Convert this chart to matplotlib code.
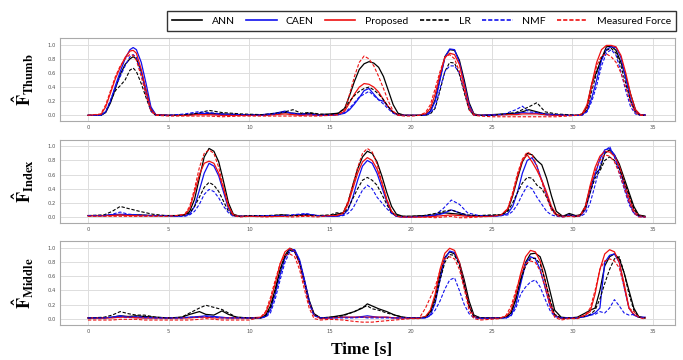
import matplotlib
matplotlib.use("Agg")
import matplotlib.pyplot as plt
from matplotlib.lines import Line2D

# ---------------- data ----------------
methods = ["ANN", "CAEN", "Proposed", "LR", "NMF", "Measured Force"]

# Thumb panel
t_thumb = [0, 0.8, 1.1, 1.4, 1.7, 2.0, 2.3, 2.6, 2.8, 3.0, 3.3, 3.6, 3.9, 4.2, 5.0,
           6.0, 6.8, 7.5, 8.3, 9.5, 10.8, 11.6, 12.2, 12.7, 13.2, 13.7, 14.3,
           15.0, 15.5, 15.9, 16.2, 16.5, 16.8, 17.1, 17.4, 17.7, 18.0, 18.3, 18.6, 18.9, 19.2, 19.6,
           20.1, 20.5, 20.9, 21.2, 21.5, 21.8, 22.1, 22.4, 22.7, 23.0, 23.3, 23.6, 23.9, 24.3,
           25.0, 25.8, 26.5, 26.9, 27.3, 27.8, 28.3, 29.0, 29.7,
           30.3, 30.6, 30.9, 31.2, 31.5, 31.8, 32.1, 32.4, 32.7, 33.0, 33.3, 33.6, 33.9, 34.2, 34.5]
thumb_ann = [0, 0.0, 0.04, 0.18, 0.38, 0.58, 0.72, 0.80, 0.83, 0.80, 0.62, 0.35, 0.10, 0.01, 0.0,
             0.0, 0.02, 0.03, 0.02, 0.01, 0.0, 0.02, 0.04, 0.03, 0.02, 0.03, 0.01,
             0.02, 0.03, 0.10, 0.28, 0.48, 0.65, 0.73, 0.76, 0.74, 0.68, 0.55, 0.35, 0.15, 0.03, 0.0,
             0.0, 0, 0.01, 0.06, 0.22, 0.52, 0.83, 0.93, 0.92, 0.78, 0.50, 0.18, 0.02, 0,
             0.01, 0.02, 0.03, 0.05, 0.08, 0.05, 0.02, 0.01, 0.0,
             0.0, 0.02, 0.12, 0.45, 0.62, 0.80, 0.97, 0.98, 0.92, 0.75, 0.55, 0.3, 0.08, 0.0, 0.0]
thumb_caen = [0, 0.0, 0.05, 0.2, 0.42, 0.62, 0.80, 0.93, 0.96, 0.93, 0.75, 0.45, 0.12, 0.01, 0.0,
              0.0, 0.03, 0.02, 0.01, 0.0, 0.01, 0.03, 0.06, 0.02, 0.01, 0.01, 0.0,
              0.01, 0.01, 0.03, 0.08, 0.16, 0.25, 0.35, 0.38, 0.30, 0.22, 0.20, 0.12, 0.04, 0.01, 0.0,
              0.0, 0, 0.01, 0.05, 0.2, 0.5, 0.82, 0.94, 0.93, 0.75, 0.45, 0.15, 0.01, 0,
              0.01, 0.01, 0.02, 0.04, 0.03, 0.03, 0.01, 0.0, 0.0,
              0.0, 0.01, 0.06, 0.25, 0.50, 0.78, 0.93, 0.97, 0.96, 0.82, 0.52, 0.22, 0.05, 0.01, 0.01]
thumb_prop = [0, 0.01, 0.12, 0.32, 0.52, 0.68, 0.82, 0.91, 0.92, 0.88, 0.65, 0.35, 0.08, 0.01, 0.0,
              0.0, 0.01, 0.01, 0.0, 0.0, 0.0, 0.01, 0.02, 0.01, 0.0, 0.01, 0.0,
              0.0, 0.01, 0.06, 0.18, 0.30, 0.40, 0.45, 0.44, 0.40, 0.33, 0.22, 0.12, 0.04, 0.01, 0.0,
              0.0, 0, 0.02, 0.1, 0.3, 0.58, 0.82, 0.88, 0.86, 0.72, 0.42, 0.12, 0.01, 0,
              0.0, 0.01, 0.01, 0.02, 0.02, 0.02, 0.01, 0.0, 0.0,
              0.0, 0.02, 0.15, 0.45, 0.75, 0.93, 0.99, 0.99, 0.97, 0.85, 0.6, 0.3, 0.08, 0.01, 0.0]
thumb_lr = [0, 0.0, 0.05, 0.2, 0.35, 0.42, 0.50, 0.64, 0.67, 0.62, 0.45, 0.25, 0.06, 0.0, 0.0,
            0.01, 0.03, 0.07, 0.04, 0.02, 0.01, 0.03, 0.05, 0.08, 0.03, 0.04, 0.02,
            0.01, 0.03, 0.10, 0.20, 0.28, 0.34, 0.38, 0.40, 0.36, 0.30, 0.22, 0.12, 0.04, 0.01, 0.0,
            0.0, 0, 0.0, 0.02, 0.1, 0.35, 0.62, 0.75, 0.74, 0.58, 0.32, 0.08, 0.0, 0,
            0.0, 0.02, 0.04, 0.08, 0.12, 0.18, 0.05, 0.02, 0.01,
            0.0, 0.01, 0.08, 0.35, 0.60, 0.82, 0.92, 0.95, 0.88, 0.70, 0.45, 0.2, 0.04, 0.0, 0.0]
thumb_nmf = [0, 0.0, 0.05, 0.22, 0.40, 0.55, 0.70, 0.83, 0.86, 0.82, 0.60, 0.30, 0.06, 0.0, 0.0,
             0.02, 0.05, 0.04, 0.02, 0.01, 0.0, 0.02, 0.05, 0.03, 0.02, 0.02, 0.0,
             0.0, 0.01, 0.04, 0.10, 0.18, 0.26, 0.30, 0.34, 0.28, 0.22, 0.16, 0.09, 0.03, 0.0, 0.0,
             0.0, 0, 0.0, 0.03, 0.12, 0.38, 0.62, 0.70, 0.70, 0.60, 0.35, 0.1, 0.0, 0,
             0.0, 0.02, 0.08, 0.13, 0.05, 0.04, 0.02, 0.01, 0.0,
             0.0, 0.0, 0.05, 0.2, 0.42, 0.70, 0.88, 0.93, 0.85, 0.62, 0.35, 0.12, 0.02, 0.0, 0.0]
thumb_meas = [0, 0.02, 0.15, 0.35, 0.55, 0.70, 0.80, 0.86, 0.85, 0.78, 0.55, 0.28, 0.06, 0.0, -0.01,
              -0.01, -0.01, -0.01, -0.02, -0.01, -0.01, -0.01, -0.01, -0.01, -0.01, -0.01, -0.01,
              0.0, 0.01, 0.08, 0.30, 0.55, 0.75, 0.84, 0.80, 0.70, 0.55, 0.38, 0.20, 0.06, 0.0, -0.01,
              -0.01, 0, 0.04, 0.15, 0.38, 0.62, 0.82, 0.86, 0.80, 0.62, 0.35, 0.08, 0.0, -0.01,
              -0.02, -0.02, -0.02, -0.02, -0.02, -0.02, -0.02, -0.02, -0.01,
              0.0, 0.01, 0.1, 0.4, 0.70, 0.84, 0.87, 0.83, 0.75, 0.60, 0.40, 0.18, 0.04, 0.0, 0.0]

# Index panel
t_index = [0, 1.0, 1.5, 2.0, 2.5, 3.2, 4.0, 4.8,
           5.5, 6.0, 6.3, 6.6, 6.9, 7.2, 7.5, 7.8, 8.1, 8.4, 8.7, 9.0, 9.4,
           10.0, 11.0, 12.0, 12.6, 13.5, 14.2,
           15.0, 15.4, 15.8, 16.1, 16.4, 16.7, 17.0, 17.3, 17.6, 17.9, 18.2, 18.5, 18.8, 19.1, 19.5,
           20.0, 20.8, 21.5, 22.0, 22.5, 23.0, 23.5, 24.2, 25.0,
           25.6, 26.0, 26.3, 26.6, 26.9, 27.2, 27.5, 27.8, 28.1, 28.4, 28.7, 29.0, 29.4,
           29.8, 30.2, 30.5, 30.8, 31.1, 31.4, 31.7, 32.0, 32.3, 32.6, 32.9, 33.2, 33.5, 33.8, 34.1, 34.5]
index_ann = [0.02, 0.02, 0.03, 0.03, 0.03, 0.03, 0.02, 0.02,
             0.02, 0.03, 0.08, 0.25, 0.55, 0.85, 0.97, 0.93, 0.78, 0.50, 0.20, 0.04, 0.01,
             0.01, 0.01, 0.03, 0.02, 0.03, 0.02,
             0.02, 0.04, 0.06, 0.20, 0.45, 0.68, 0.85, 0.93, 0.90, 0.78, 0.58, 0.35, 0.15, 0.04, 0.01,
             0.01, 0.02, 0.03, 0.06, 0.05, 0.04, 0.02, 0.02, 0.02,
             0.03, 0.10, 0.30, 0.55, 0.78, 0.90, 0.88, 0.80, 0.74, 0.55, 0.30, 0.08, 0.01,
             0.05, 0.02, 0.03, 0.15, 0.42, 0.60, 0.68, 0.90, 0.95, 0.88, 0.75, 0.55, 0.35, 0.15, 0.03, 0.01]
index_caen = [0.02, 0.02, 0.03, 0.04, 0.03, 0.02, 0.02, 0.02,
              0.01, 0.02, 0.04, 0.15, 0.38, 0.62, 0.76, 0.72, 0.58, 0.35, 0.12, 0.02, 0.01,
              0.01, 0.01, 0.02, 0.02, 0.04, 0.02,
              0.01, 0.01, 0.03, 0.10, 0.28, 0.52, 0.72, 0.80, 0.76, 0.62, 0.42, 0.22, 0.06, 0.01, 0.0,
              0.0, 0.01, 0.02, 0.05, 0.10, 0.06, 0.02, 0.01, 0.01,
              0.02, 0.05, 0.15, 0.35, 0.62, 0.80, 0.84, 0.72, 0.52, 0.32, 0.12, 0.03, 0.01,
              0.03, 0.01, 0.02, 0.10, 0.35, 0.60, 0.82, 0.95, 0.97, 0.88, 0.70, 0.45, 0.22, 0.06, 0.01, 0.0]
index_prop = [0.02, 0.02, 0.02, 0.03, 0.02, 0.02, 0.02, 0.02,
              0.02, 0.03, 0.12, 0.35, 0.60, 0.76, 0.79, 0.76, 0.62, 0.40, 0.15, 0.03, 0.01,
              0.01, 0.01, 0.01, 0.02, 0.02, 0.02,
              0.02, 0.02, 0.05, 0.18, 0.40, 0.62, 0.78, 0.84, 0.80, 0.68, 0.48, 0.25, 0.08, 0.01, 0.0,
              0.0, 0.0, 0.01, 0.02, 0.03, 0.02, 0.01, 0.01, 0.01,
              0.03, 0.12, 0.32, 0.58, 0.80, 0.88, 0.78, 0.66, 0.52, 0.35, 0.15, 0.04, 0.01,
              0.02, 0.01, 0.03, 0.15, 0.45, 0.70, 0.86, 0.93, 0.92, 0.86, 0.72, 0.50, 0.28, 0.10, 0.02, 0.0]
index_lr = [0.02, 0.03, 0.08, 0.15, 0.12, 0.08, 0.04, 0.02,
            0.02, 0.03, 0.06, 0.15, 0.28, 0.42, 0.49, 0.45, 0.36, 0.22, 0.08, 0.02, 0.01,
            0.02, 0.02, 0.03, 0.02, 0.03, 0.02,
            0.03, 0.06, 0.05, 0.12, 0.26, 0.40, 0.52, 0.56, 0.52, 0.45, 0.32, 0.18, 0.06, 0.02, 0.01,
            0.01, 0.02, 0.05, 0.08, 0.10, 0.06, 0.03, 0.02, 0.03,
            0.03, 0.08, 0.20, 0.35, 0.48, 0.56, 0.55, 0.45, 0.40, 0.28, 0.12, 0.03, 0.01,
            0.03, 0.01, 0.03, 0.12, 0.35, 0.55, 0.65, 0.80, 0.85, 0.80, 0.68, 0.50, 0.32, 0.12, 0.02, 0.01]
index_nmf = [0.02, 0.02, 0.04, 0.07, 0.04, 0.03, 0.02, 0.02,
             0.01, 0.01, 0.03, 0.08, 0.18, 0.32, 0.39, 0.36, 0.27, 0.15, 0.06, 0.01, 0.01,
             0.01, 0.02, 0.02, 0.03, 0.05, 0.02,
             0.01, 0.01, 0.02, 0.05, 0.12, 0.25, 0.38, 0.45, 0.40, 0.28, 0.20, 0.12, 0.05, 0.01, 0.0,
             0.0, 0.01, 0.03, 0.12, 0.24, 0.18, 0.06, 0.02, 0.01,
             0.02, 0.03, 0.08, 0.18, 0.32, 0.44, 0.40, 0.28, 0.18, 0.08, 0.03, 0.01, 0.0,
             0.02, 0.01, 0.01, 0.05, 0.20, 0.45, 0.72, 0.92, 1.00, 0.85, 0.62, 0.40, 0.18, 0.05, 0.01, 0.0]
index_meas = [0.01, 0.01, 0.01, 0.01, 0.01, 0.01, 0.01, 0.01,
              0.02, 0.04, 0.15, 0.40, 0.70, 0.90, 0.95, 0.90, 0.70, 0.42, 0.15, 0.02, 0.0,
              0.01, 0.0, 0.01, 0.0, 0.01, 0.0,
              0.02, 0.02, 0.06, 0.22, 0.45, 0.70, 0.90, 0.97, 0.92, 0.75, 0.50, 0.25, 0.08, 0.01, 0.0,
              0.0, 0.0, -0.01, 0.0, 0.01, -0.01, -0.01, 0.0, 0.01,
              0.03, 0.12, 0.35, 0.62, 0.82, 0.92, 0.88, 0.72, 0.50, 0.28, 0.10, 0.02, 0.0,
              0.01, 0.0, 0.02, 0.12, 0.40, 0.65, 0.80, 0.88, 0.86, 0.78, 0.62, 0.42, 0.22, 0.06, 0.0, 0.0]

# Middle-finger panel
t_middle = [0, 1.0, 1.5, 2.0, 2.5, 3.0, 3.5, 4.2, 5.0, 5.8, 6.3, 6.9, 7.3, 7.8, 8.3, 8.7, 9.2,
            10.0, 10.7, 11.0, 11.3, 11.6, 11.9, 12.2, 12.5, 12.8, 13.1, 13.4, 13.7, 14.0, 14.4,
            15.0, 15.8, 16.5, 17.0, 17.3, 17.6, 18.0, 18.5, 19.0, 19.5, 20.0,
            20.5, 20.9, 21.2, 21.5, 21.8, 22.1, 22.4, 22.7, 23.0, 23.3, 23.6, 23.9, 24.3,
            25.5, 25.9, 26.2, 26.5, 26.8, 27.1, 27.4, 27.7, 28.0, 28.3, 28.6, 28.9, 29.3,
            29.8, 30.3, 30.8, 31.1, 31.4, 31.7, 32.0, 32.3, 32.6, 32.9, 33.2, 33.5, 33.8, 34.1, 34.5]
middle_ann = [0.01, 0.01, 0.02, 0.04, 0.03, 0.04, 0.03, 0.02, 0.01, 0.02, 0.06, 0.10, 0.06, 0.05, 0.11, 0.06, 0.02,
              0.01, 0.01, 0.05, 0.18, 0.42, 0.70, 0.90, 1.0, 0.97, 0.82, 0.55, 0.26, 0.07, 0.01,
              0.02, 0.05, 0.10, 0.15, 0.21, 0.18, 0.14, 0.10, 0.05, 0.02, 0.01,
              0.01, 0.02, 0.10, 0.30, 0.62, 0.87, 0.95, 0.92, 0.80, 0.55, 0.25, 0.05, 0.01,
              0.01, 0.02, 0.08, 0.28, 0.56, 0.80, 0.92, 0.93, 0.88, 0.68, 0.40, 0.12, 0.02,
              0.01, 0.02, 0.08, 0.12, 0.15, 0.40, 0.75, 0.88, 0.92, 0.85, 0.65, 0.40, 0.15, 0.03, 0.01]
middle_caen = [0.01, 0.01, 0.02, 0.04, 0.02, 0.02, 0.01, 0.01, 0.01, 0.01, 0.02, 0.03, 0.04, 0.03, 0.02, 0.01, 0.01,
               0.01, 0.01, 0.03, 0.12, 0.35, 0.62, 0.86, 0.98, 0.98, 0.84, 0.56, 0.25, 0.05, 0.01,
               0.01, 0.02, 0.02, 0.03, 0.04, 0.03, 0.02, 0.02, 0.01, 0.01, 0.01,
               0.01, 0.01, 0.05, 0.22, 0.55, 0.85, 0.96, 0.94, 0.78, 0.48, 0.18, 0.03, 0.01,
               0.01, 0.01, 0.05, 0.20, 0.50, 0.78, 0.88, 0.85, 0.70, 0.45, 0.20, 0.04, 0.01,
               0.01, 0.01, 0.03, 0.05, 0.08, 0.15, 0.80, 0.90, 0.92, 0.80, 0.45, 0.15, 0.05, 0.02, 0.02]
middle_prop = [0.01, 0.01, 0.01, 0.02, 0.02, 0.01, 0.01, 0.01, 0.01, 0.01, 0.01, 0.02, 0.02, 0.01, 0.01, 0.01, 0.01,
               0.01, 0.02, 0.08, 0.25, 0.50, 0.78, 0.95, 1.0, 0.95, 0.78, 0.50, 0.22, 0.05, 0.0,
               0.01, 0.02, 0.02, 0.02, 0.02, 0.02, 0.02, 0.02, 0.01, 0.01, 0.01,
               0.01, 0.03, 0.12, 0.35, 0.70, 0.93, 1.0, 0.97, 0.80, 0.48, 0.18, 0.03, 0.0,
               0.01, 0.03, 0.12, 0.35, 0.65, 0.88, 0.97, 0.95, 0.82, 0.55, 0.25, 0.05, 0.0,
               0.01, 0.01, 0.05, 0.10, 0.35, 0.70, 0.92, 0.98, 0.95, 0.80, 0.50, 0.15, 0.06, 0.02, 0.01]
middle_lr = [0.01, 0.02, 0.05, 0.10, 0.07, 0.05, 0.05, 0.02, 0.01, 0.02, 0.08, 0.15, 0.19, 0.16, 0.13, 0.08, 0.02,
             0.01, 0.01, 0.04, 0.15, 0.40, 0.68, 0.88, 0.97, 0.95, 0.80, 0.52, 0.24, 0.06, 0.01,
             0.02, 0.04, 0.10, 0.16, 0.18, 0.14, 0.12, 0.08, 0.05, 0.02, 0.01,
             0.01, 0.02, 0.08, 0.25, 0.55, 0.80, 0.91, 0.90, 0.76, 0.48, 0.18, 0.03, 0.01,
             0.01, 0.02, 0.08, 0.28, 0.55, 0.75, 0.85, 0.86, 0.78, 0.55, 0.28, 0.06, 0.01,
             0.01, 0.01, 0.03, 0.06, 0.12, 0.28, 0.50, 0.70, 0.85, 0.88, 0.65, 0.35, 0.12, 0.02, 0.01]
middle_nmf = [0.01, 0.01, 0.02, 0.03, 0.02, 0.03, 0.02, 0.01, 0.01, 0.01, 0.02, 0.02, 0.03, 0.02, 0.01, 0.01, 0.01,
              0.01, 0.01, 0.02, 0.08, 0.28, 0.55, 0.80, 0.95, 0.96, 0.82, 0.52, 0.22, 0.04, 0.01,
              0.01, 0.01, 0.01, 0.02, 0.01, 0.01, 0.01, 0.01, 0.01, 0.01, 0.01,
              0.01, 0.01, 0.04, 0.12, 0.25, 0.42, 0.55, 0.58, 0.40, 0.20, 0.07, 0.01, 0.0,
              0.01, 0.01, 0.04, 0.15, 0.35, 0.45, 0.52, 0.55, 0.45, 0.28, 0.12, 0.03, 0.01,
              0.01, 0.01, 0.03, 0.05, 0.06, 0.10, 0.08, 0.15, 0.27, 0.18, 0.08, 0.05, 0.06, 0.02, 0.01]
middle_meas = [-0.02, -0.02, -0.02, -0.01, -0.01, -0.01, -0.02, -0.02, -0.02, -0.02, -0.02, -0.01, 0.0, -0.01, -0.02, -0.02, -0.02,
               -0.02, 0.02, 0.10, 0.30, 0.55, 0.78, 0.90, 0.92, 0.88, 0.70, 0.42, 0.15, 0.0, -0.02,
               -0.01, -0.02, -0.04, -0.05, -0.05, -0.05, -0.04, -0.03, -0.02, -0.01, 0.0,
               0.0, 0.15, 0.30, 0.45, 0.68, 0.85, 0.88, 0.85, 0.70, 0.42, 0.12, 0.0, -0.02,
               0.0, 0.05, 0.18, 0.40, 0.62, 0.78, 0.82, 0.80, 0.68, 0.45, 0.18, 0.02, -0.02,
               0.0, 0.0, 0.05, 0.15, 0.40, 0.70, 0.82, 0.85, 0.82, 0.72, 0.45, 0.15, 0.10, 0.02, -0.01]

panel_labels = [r"$\mathbf{\hat{F}_{Thumb}}$", r"$\mathbf{\hat{F}_{Index}}$", r"$\mathbf{\hat{F}_{Middle}}$"]
x_ticks = [0, 5, 10, 15, 20, 25, 30, 35]
y_ticks = [0.0, 0.2, 0.4, 0.6, 0.8, 1.0]

panels = [
    (t_thumb, [thumb_ann, thumb_caen, thumb_prop, thumb_lr, thumb_nmf, thumb_meas]),
    (t_index, [index_ann, index_caen, index_prop, index_lr, index_nmf, index_meas]),
    (t_middle, [middle_ann, middle_caen, middle_prop, middle_lr, middle_nmf, middle_meas]),
]

# ---------------- styling ----------------
plt.rcParams["mathtext.fontset"] = "stix"
colors = ["black", "#1010ee", "#ee1010", "black", "#1010ee", "#ee1010"]
styles = ["-", "-", "-", "--", "--", "--"]

W, H = 683, 360
fig = plt.figure(figsize=(W / 100, H / 100), dpi=100)

# axes rectangles in pixels: (left, top, right, bottom)
rects = [(60, 38, 675, 121), (60, 139.6, 675, 223.3), (60, 240.7, 675, 325.3)]
ylims = [(-0.08, 1.095), (-0.089, 1.095), (-0.095, 1.108)]
for i, ((t, series), (l, tp, r, b)) in enumerate(zip(panels, rects)):
    ax = fig.add_axes([l / W, 1 - b / H, (r - l) / W, (b - tp) / H])
    for vals, c, ls in zip(series, colors, styles):
        assert len(vals) == len(t)
        if ls == "--":
            ax.plot(t, vals, color=c, lw=0.8, ls=(0, (3, 1.6)))
        else:
            ax.plot(t, vals, color=c, lw=0.9)
    ax.set_xlim(-1.73, 36.35)
    ax.set_ylim(*ylims[i])
    ax.set_xticks(x_ticks)
    ax.set_yticks(y_ticks)
    ax.set_yticklabels([f"{v:.1f}" for v in y_ticks])
    ax.grid(True, color="#dddddd", lw=0.7)
    ax.set_axisbelow(True)
    ax.tick_params(labelsize=3.8, colors="#555555", length=0, pad=3)
    for s in ax.spines.values():
        s.set_color("#aaaaaa")
        s.set_linewidth(0.8)
    fig.text(23 / W, 1 - ((tp + b) / 2) / H, panel_labels[i], rotation=90,
             ha="center", va="center", fontsize=13)

fig.text(362 / W, 1 - 350 / H, "Time [s]", family="Liberation Serif",
         fontweight="bold", fontsize=12.5, ha="center", va="center")

handles = [Line2D([], [], color=c, lw=1.2, ls=("-" if s == "-" else (0, (2.5, 1.2))))
           for c, s in zip(colors, styles)]
leg = fig.legend(handles, methods, loc="upper right", bbox_to_anchor=(676 / W, 1 - 11 / H),
                 ncol=6, frameon=True, fancybox=False, prop={"family": "Lato", "size": 7.5},
                 handlelength=2.9, columnspacing=1.1, handletextpad=0.9,
                 borderpad=0.5, borderaxespad=0)
leg.get_frame().set_edgecolor("black")
leg.get_frame().set_linewidth(1.0)

fig.savefig("out.png", dpi=100)
